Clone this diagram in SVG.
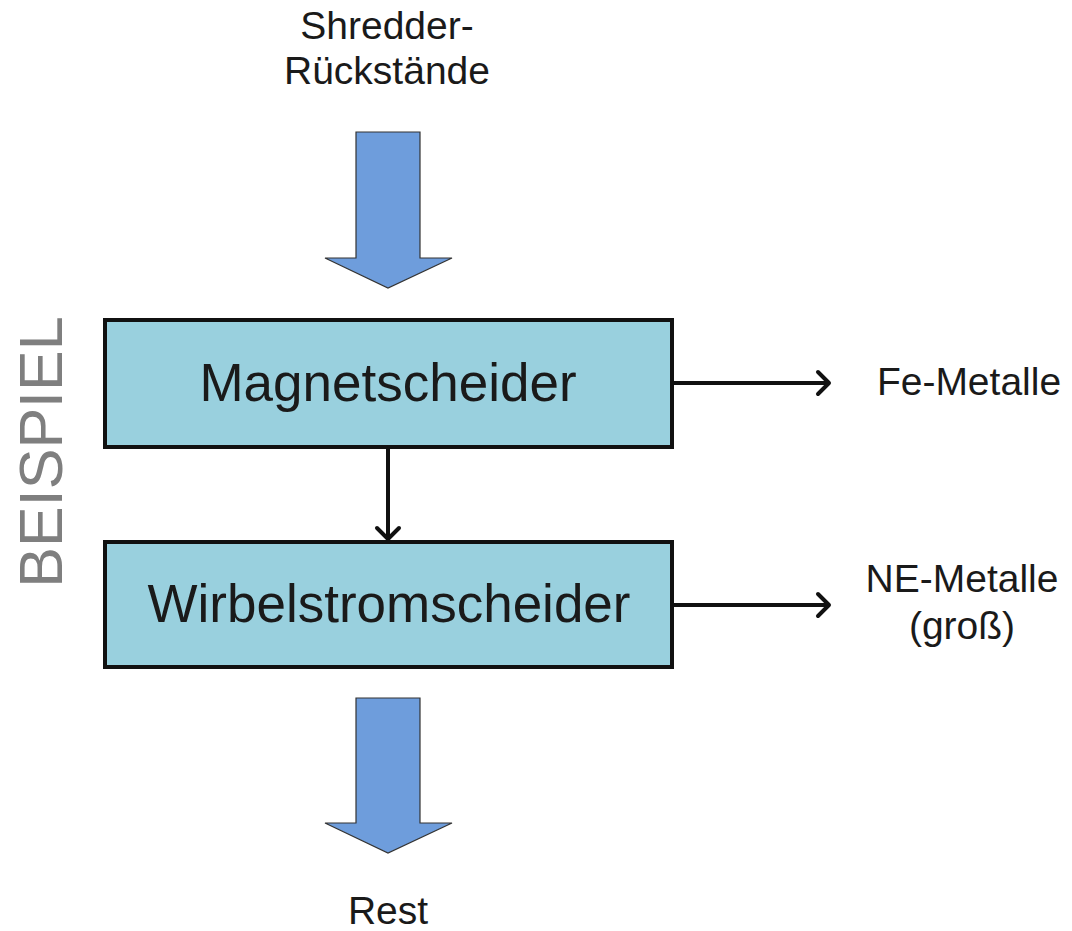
<svg xmlns="http://www.w3.org/2000/svg" width="1072" height="931" viewBox="0 0 1072 931">
<defs>
<style>
text{font-family:"Liberation Sans",Arial,sans-serif;fill:#1a1a1a}
.lbl{font-size:39px;text-anchor:middle}
.box{fill:#99d0de;stroke:#111;stroke-width:4}
.big{font-size:53px;text-anchor:middle}
.flow{fill:#6e9ddc;stroke:#333;stroke-width:1.2}
.con{stroke:#111;stroke-width:4;fill:none}
.head{stroke:#111;stroke-width:4;fill:none;stroke-linecap:round;stroke-linejoin:round}
</style>
</defs>
<rect width="1072" height="931" fill="#fff"/>
<text transform="translate(62,452) rotate(-90)" style="font-size:61px;fill:#7f7f7f;text-anchor:middle">BEISPIEL</text>
<g id="input">
<text class="lbl" x="387" y="39">Shredder-</text>
<text class="lbl" x="387" y="84">Rückstände</text>
<path class="flow" d="M356,132 H420 V258 H452 L388,288 L325,258 H356 Z"/>
</g>
<g id="magnetscheider">
<rect class="box" x="105" y="320" width="567" height="127"/>
<text class="big" x="388" y="401">Magnetscheider</text>
</g>
<g id="wirbelstromscheider">
<rect class="box" x="105" y="542" width="567" height="125"/>
<text class="big" x="389" y="622">Wirbelstromscheider</text>
</g>
<g id="fe">
<text class="lbl" x="969" y="395">Fe-Metalle</text>
</g>
<g id="ne">
<text class="lbl" x="962" y="592">NE-Metalle</text>
<text class="lbl" x="962" y="639">(groß)</text>
</g>
<g id="rest">
<path class="flow" d="M356,698 H420 V823 H452 L388,853 L325,823 H356 Z"/>
<text class="lbl" x="388" y="924">Rest</text>
</g>
<g id="connectors">
<line class="con" x1="674" y1="383" x2="829" y2="383"/>
<path class="head" d="M818,372 L829,383 L818,394"/>
<line class="con" x1="674" y1="605" x2="829" y2="605"/>
<path class="head" d="M818,594 L829,605 L818,616"/>
<line class="con" x1="388" y1="449" x2="388" y2="539"/>
<path class="head" d="M377,528 L388,539 L399,528"/>
</g>
</svg>
